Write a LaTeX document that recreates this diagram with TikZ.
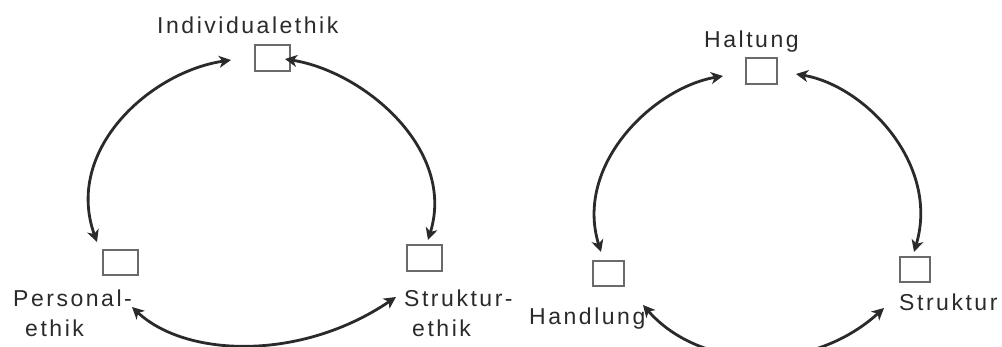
\documentclass[tikz,border=0pt]{standalone}
\usepackage{fontspec}
\setmainfont[LetterSpace=11]{Liberation Sans}
\usetikzlibrary{arrows.meta}
\definecolor{ink}{HTML}{2A2A2A}
\definecolor{boxline}{HTML}{6A6A6A}
\tikzset{
  lbl/.style={inner sep=0pt, anchor=base west, text=ink, font=\fontsize{23}{30}\selectfont},
  sq/.style={draw=boxline, line width=1.1pt, inner sep=0pt},
  arr/.style={draw=ink, line width=2.8pt, {Stealth[length=12pt,width=12pt,inset=3.5pt]}-{Stealth[length=12pt,width=12pt,inset=3.5pt]}}
}
\begin{document}
\begin{tikzpicture}[x=1pt,y=-1pt]
\useasboundingbox (0,0) rectangle (1002,347);
% ---------- left diagram ----------
\node[lbl] (tIndiv) at (157,34) {Individualethik};
\node[lbl, align=left] (tPers) at (13,337) {Personal-\\\hspace*{12pt}ethik};
\node[lbl, align=left] (tStrE) at (404,337) {Struktur-\\\hspace*{8pt}ethik};
\draw[sq] (255,45) rectangle (290,71) node[pos=.5, coordinate] (bIndiv) {};
\draw[sq] (103,250) rectangle (138,275) node[pos=.5, coordinate] (bPers) {};
\draw[sq] (407,245) rectangle (442,271) node[pos=.5, coordinate] (bStr) {};
\coordinate (a1) at (231,60);
\coordinate (a2) at (97,242);
\coordinate (b1) at (285,59);
\coordinate (b2) at (428,240);
\coordinate (c1) at (132,307);
\coordinate (c2) at (396,297);
\draw[arr] (a1) .. controls (150,72) and (64,150) .. (a2);
\draw[arr] (b1) .. controls (365,72) and (456,150) .. (b2);
\draw[arr] (c1) .. controls (185,357) and (300,362) .. (c2);
% ---------- right diagram ----------
\node[lbl] (tHalt) at (704,48) {Haltung};
\node[lbl] (tHand) at (529,325) {Handlung};
\node[lbl] (tStr) at (899,311) {Struktur};
\draw[sq] (746,58) rectangle (777,84) node[pos=.5, coordinate] (bHalt) {};
\draw[sq] (593,261) rectangle (624,286) node[pos=.5, coordinate] (bHand) {};
\draw[sq] (900,257) rectangle (930,282) node[pos=.5, coordinate] (bStr2) {};
\coordinate (d1) at (723,76);
\coordinate (d2) at (601,252);
\coordinate (e1) at (796,74);
\coordinate (e2) at (914,252);
\coordinate (f1) at (643,305);
\coordinate (f2) at (884,308);
\draw[arr] (d1) .. controls (653,88) and (574,165) .. (d2);
\draw[arr] (e1) .. controls (866,86) and (940,165) .. (e2);
\draw[arr] (f1) .. controls (700,370) and (810,375) .. (f2);
\end{tikzpicture}
\end{document}
